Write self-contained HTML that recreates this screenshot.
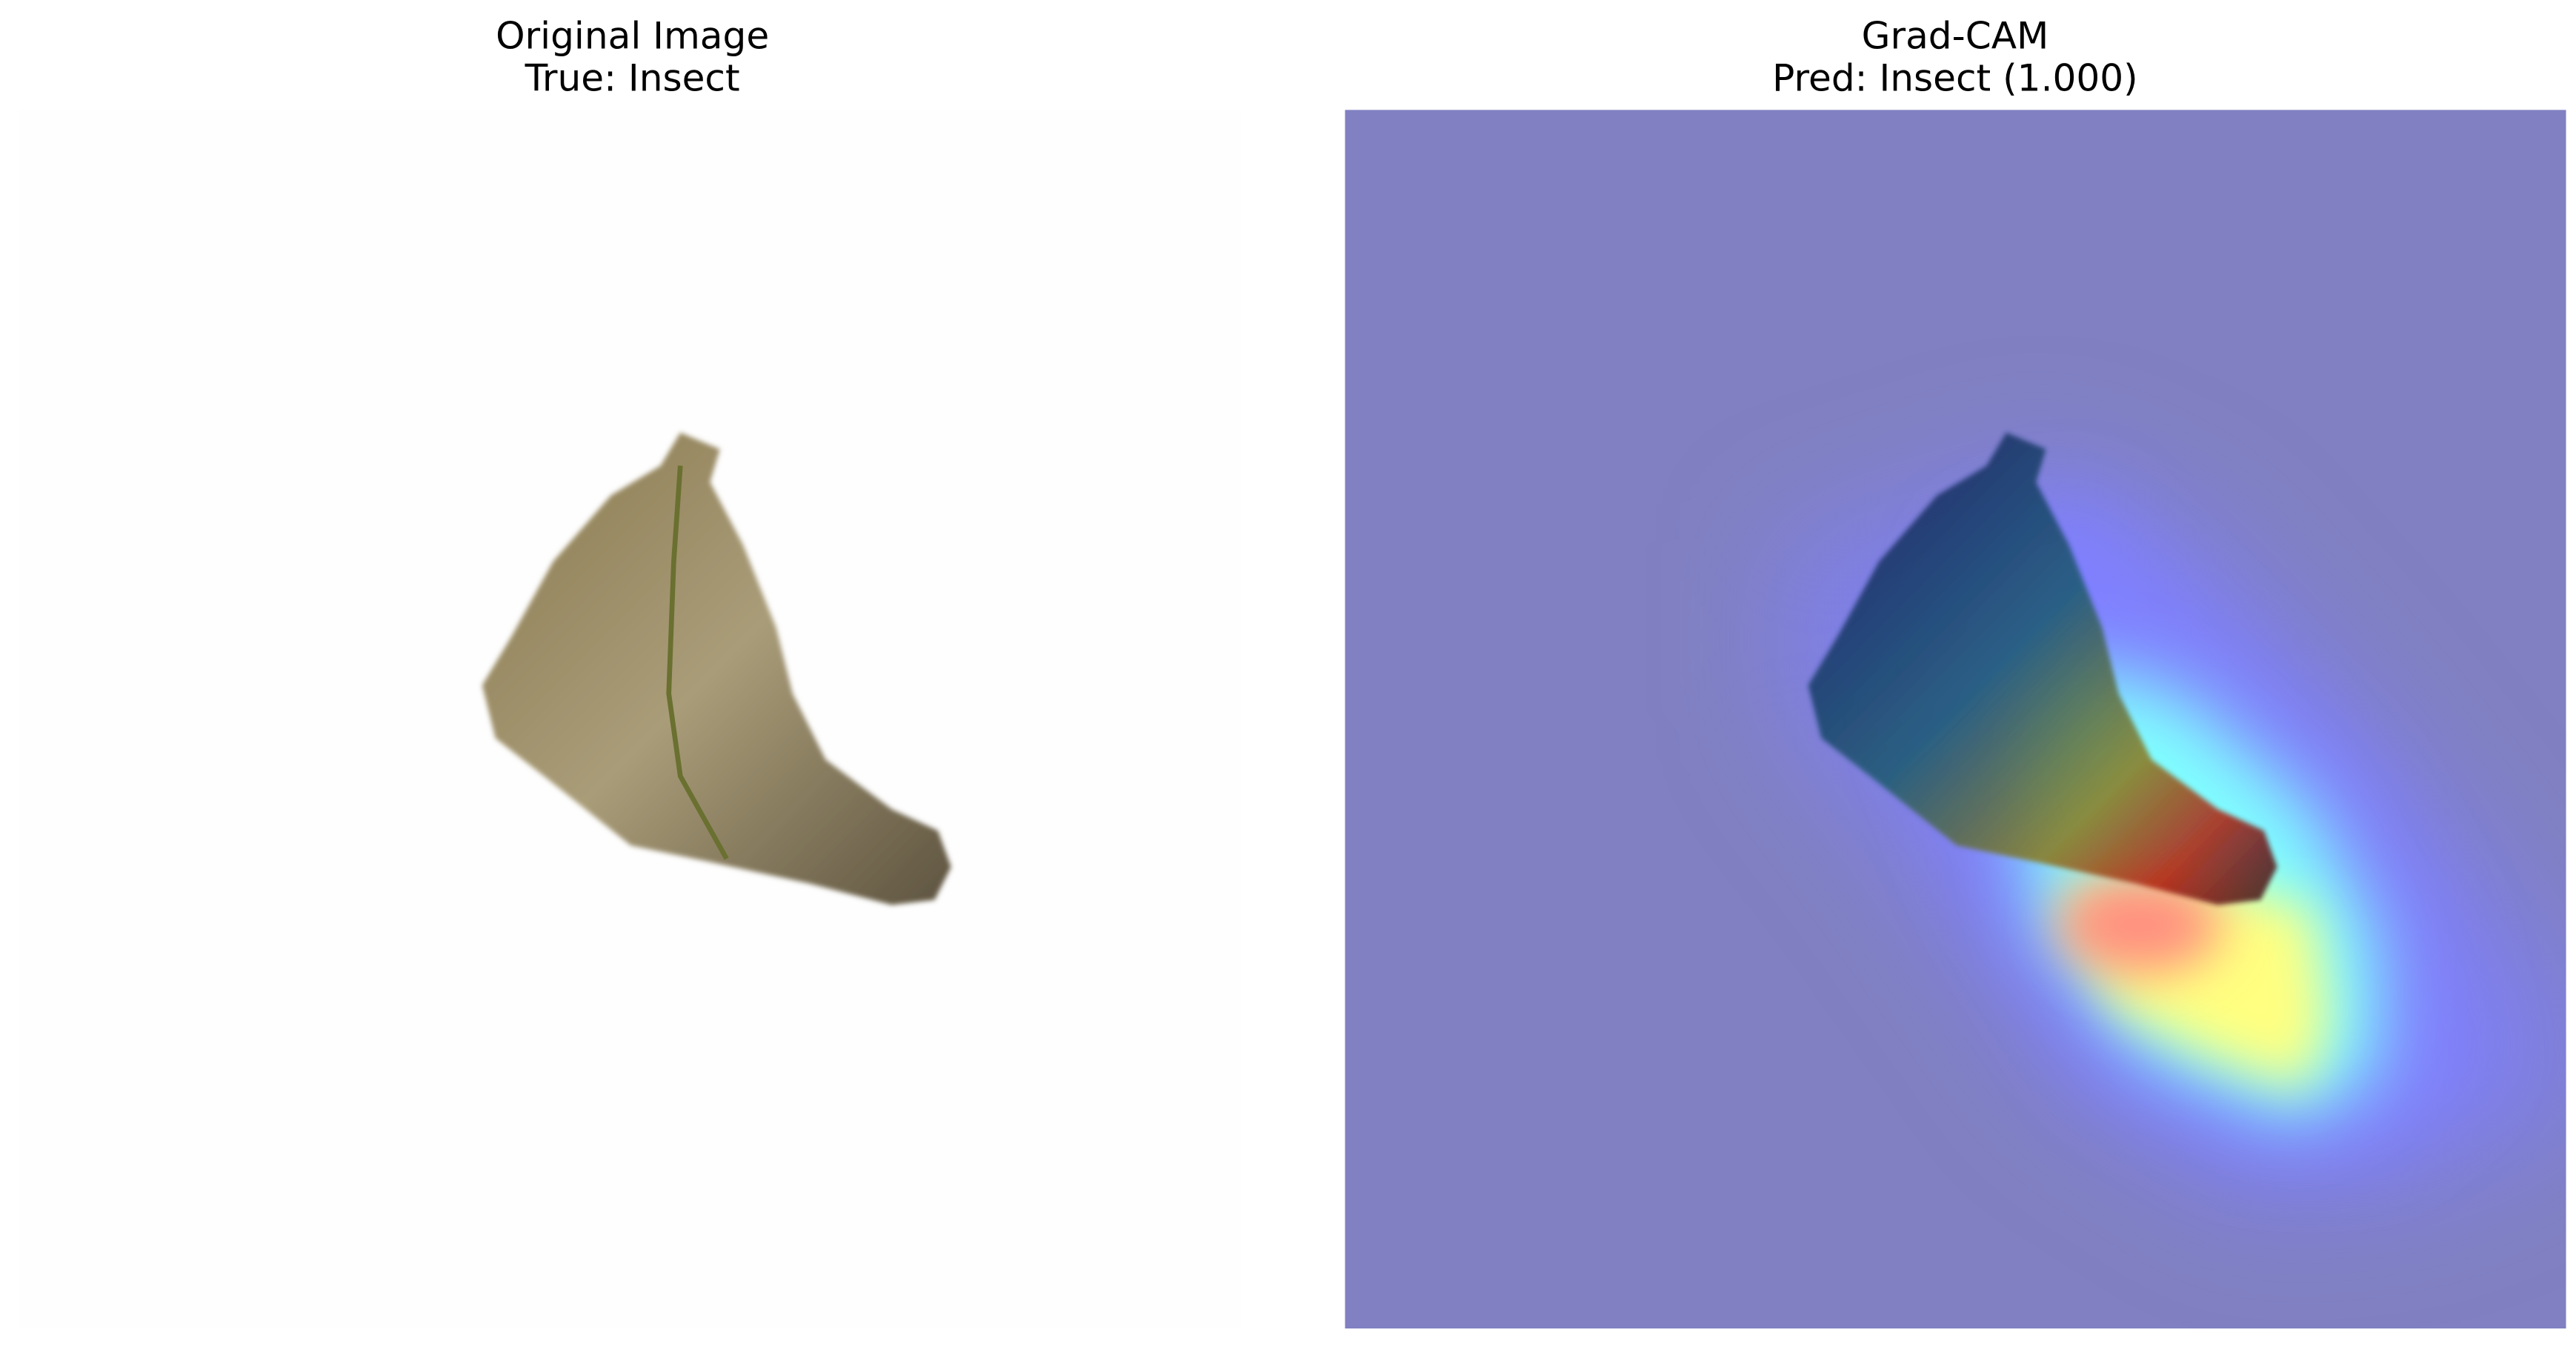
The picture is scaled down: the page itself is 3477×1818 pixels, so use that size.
<!DOCTYPE html>
<html><head><meta charset="utf-8"><style>
html,body{margin:0;padding:0;background:#fff;}
svg{display:block;}
</style></head><body>
<svg width="3477" height="1818" viewBox="0 0 1560 815.7" preserveAspectRatio="none" xmlns="http://www.w3.org/2000/svg">
<defs>
<filter id="b40" x="-50%" y="-50%" width="200%" height="200%"><feGaussianBlur stdDeviation="35"/></filter>
<filter id="b25" x="-50%" y="-50%" width="200%" height="200%"><feGaussianBlur stdDeviation="22"/></filter>
<filter id="b15" x="-50%" y="-50%" width="200%" height="200%"><feGaussianBlur stdDeviation="15"/></filter>
<filter id="b3"><feGaussianBlur stdDeviation="1.5"/></filter>
<clipPath id="cp"><rect x="814.5" y="66.5" width="739.5" height="738"/></clipPath>
<linearGradient id="leafg" x1="0" y1="0" x2="1" y2="1">
<stop offset="0" stop-color="#8a7a50"/><stop offset="0.5" stop-color="#a99c78"/><stop offset="1" stop-color="#5e5440"/>
</linearGradient>
<linearGradient id="leafr" x1="0" y1="0" x2="1" y2="1">
<stop offset="0" stop-color="#10105a"/><stop offset="0.45" stop-color="#1c5a70"/><stop offset="0.7" stop-color="#8a7a20"/><stop offset="0.85" stop-color="#b02010"/><stop offset="1" stop-color="#301018"/>
</linearGradient>
</defs>
<text x="383" y="29.5" text-anchor="middle" font-family="DejaVu Sans, Liberation Sans, sans-serif" font-size="22.5" fill="#000">Original Image</text>
<text x="383" y="55" text-anchor="middle" font-family="DejaVu Sans, Liberation Sans, sans-serif" font-size="22.5" fill="#000">True: Insect</text>
<text x="1184" y="29.5" text-anchor="middle" font-family="DejaVu Sans, Liberation Sans, sans-serif" font-size="22.5" fill="#000">Grad-CAM</text>
<text x="1184" y="55" text-anchor="middle" font-family="DejaVu Sans, Liberation Sans, sans-serif" font-size="22.5" fill="#000">Pred: Insect (1.000)</text>

<g>
<rect x="12" y="66.5" width="739.5" height="738" fill="#fefefe"/>
<path filter="url(#b3)" fill="url(#leafg)" d="M412,262 L436,272 L430,292 L450,330 L470,380 L480,420 L500,460 L540,490 L568,503 L576,525 L566,545 L540,548 L490,535 L430,522 L382,512 L332,472 L300,447 L292,415 L310,385 L335,340 L370,300 L400,282 Z"/>
<path d="M412,282 L408,340 L405,420 L412,470 L440,520" stroke="#6a7030" stroke-width="3" fill="none"/>
</g>

<g clip-path="url(#cp)">
<rect x="814.5" y="66.5" width="739.5" height="738" fill="#8080c2"/>
<path fill="#7f7fea" filter="url(#b40)" d="M1080,330 L1240,280 L1330,320 L1420,420 L1500,520 L1570,620 L1560,680 L1470,720 L1360,730 L1250,660 L1150,520 L1080,430 Z"/>
<path fill="#8080ff" filter="url(#b25)" d="M1190,330 L1260,300 L1340,380 L1430,470 L1480,560 L1500,650 L1440,700 L1360,700 L1270,650 L1200,540 L1160,440 Z"/>
<path fill="#80ffff" filter="url(#b25)" d="M1250,400 L1320,420 L1400,490 L1440,570 L1440,650 L1390,680 L1300,640 L1235,560 L1220,470 Z"/>
<path fill="#ffff80" filter="url(#b15)" d="M1250,540 L1330,530 L1400,550 L1410,620 L1395,660 L1340,640 L1280,610 Z"/>
<ellipse fill="#ff9080" filter="url(#b15)" cx="1295" cy="560" rx="50" ry="30"/>
<path filter="url(#b3)" fill="url(#leafr)" opacity="0.85" d="M1215,262 L1239,272 L1233,292 L1253,330 L1273,380 L1283,420 L1303,460 L1343,490 L1371,503 L1379,525 L1369,545 L1343,548 L1293,535 L1233,522 L1185,512 L1135,472 L1103,447 L1095,415 L1113,385 L1138,340 L1173,300 L1203,282 Z"/>
</g>
</svg>
</body></html>
